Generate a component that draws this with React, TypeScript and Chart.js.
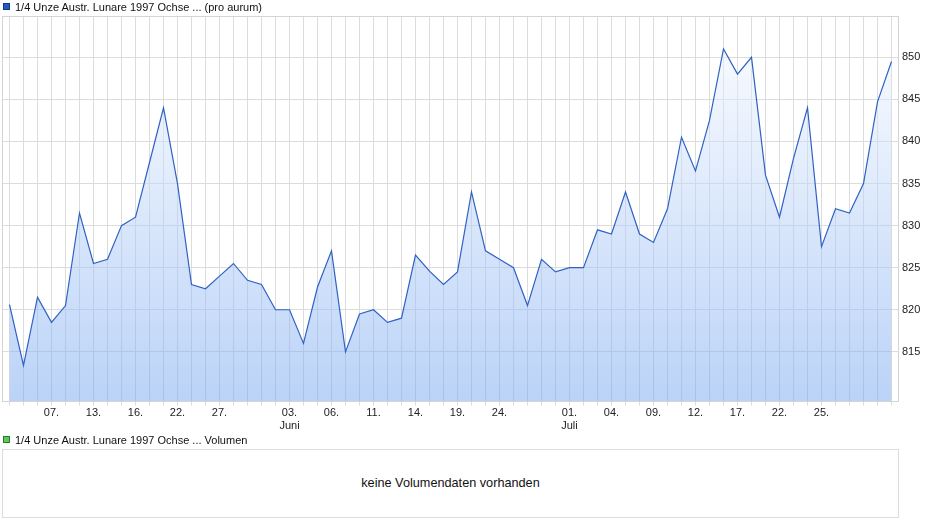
import React, { useEffect, useRef } from "react";
import { Chart, registerables } from "chart.js";

Chart.register(...registerables);

const categories: string[] = [
  "02.05.", "03.05.", "06.05.", "07.05.", "08.05.", "10.05.", "13.05.", "14.05.", "15.05.", "16.05.",
  "17.05.", "21.05.", "22.05.", "23.05.", "24.05.", "27.05.", "28.05.", "29.05.", "30.05.", "31.05.",
  "03.06.", "04.06.", "05.06.", "06.06.", "07.06.", "10.06.", "11.06.", "12.06.", "13.06.", "14.06.",
  "17.06.", "18.06.", "19.06.", "20.06.", "21.06.", "24.06.", "25.06.", "26.06.", "27.06.", "28.06.",
  "01.07.", "02.07.", "03.07.", "04.07.", "05.07.", "08.07.", "09.07.", "10.07.", "11.07.", "12.07.",
  "15.07.", "16.07.", "17.07.", "18.07.", "19.07.", "22.07.", "23.07.", "24.07.", "25.07.", "26.07.",
  "29.07.", "30.07.", "31.07.", "01.08.",
];

const prices: number[] = [
  820.6, 813.4, 821.5, 818.5, 820.5, 831.5, 825.5, 826, 830, 831,
  837.5, 844, 835, 823, 822.5, 824, 825.5, 823.5, 823, 820,
  820, 816, 822.7, 827, 815, 819.5, 820, 818.5, 819, 826.5,
  824.6, 823, 824.5, 834, 827, 826, 825, 820.5, 826, 824.5,
  825, 825, 829.5, 829, 834, 829, 828, 832, 840.5, 836.5,
  842.5, 851, 848, 850, 836, 831, 838, 844, 827.5, 832,
  831.5, 835, 844.7, 849.5,
];

const labeledDates: string[] = [
  "07.05.", "13.05.", "16.05.", "22.05.", "27.05.", "03.06.", "06.06.", "11.06.", "14.06.",
  "19.06.", "24.06.", "01.07.", "04.07.", "09.07.", "12.07.", "17.07.", "22.07.", "25.07.",
];

const monthNames: Record<string, string> = { "06": "Juni", "07": "Juli" };
const monthStartDates: string[] = ["03.06.", "01.07."];

const yTicks: number[] = [815, 820, 825, 830, 835, 840, 845, 850];
const yMin = 809.1;
const yMax = 854.85;

const titleText = "1/4 Unze Austr. Lunare 1997 Ochse ... (pro aurum)";
const volumeTitle = "1/4 Unze Austr. Lunare 1997 Ochse ... Volumen";
const noVolumeText = "keine Volumendaten vorhanden";

const FONT = "'Liberation Sans', Arial, Helvetica, sans-serif";
const GRID = "#dcdcdc";

const framePlugin = {
  id: "frame",
  afterDatasetsDraw(chart: any) {
    const { ctx, chartArea } = chart;
    ctx.save();
    ctx.strokeStyle = "#d4d4d4";
    ctx.lineWidth = 1;
    ctx.strokeRect(chartArea.left, chartArea.top, chartArea.right - chartArea.left, chartArea.bottom - chartArea.top);
    ctx.restore();
  },
};

function PriceChart() {
  const ref = useRef<HTMLCanvasElement | null>(null);
  useEffect(() => {
    if (!ref.current) return;
    const chart = new Chart(ref.current, {
      type: "line",
      data: {
        labels: categories,
        datasets: [
          {
            data: prices,
            borderColor: "#2f62c4",
            borderWidth: 1.2,
            pointRadius: 0,
            tension: 0,
            fill: "start",
            backgroundColor: (c: any) => {
              const area = c.chart.chartArea;
              if (!area) return "rgba(120,168,240,0.5)";
              const g = c.chart.ctx.createLinearGradient(0, area.top, 0, area.bottom);
              g.addColorStop(0, "rgba(250,252,255,0.5)");
              g.addColorStop(1, "rgba(119,167,241,0.5)");
              return g;
            },
          },
        ],
      },
      options: {
        animation: false,
        responsive: false,
        devicePixelRatio: 1,
        layout: { padding: { left: 2.5, top: 16.5, right: 0, bottom: 0 } },
        plugins: { legend: { display: false }, tooltip: { enabled: false } },
        scales: {
          x: {
            type: "category",
            offset: true,
            grid: { color: GRID, offset: false, drawTicks: true, tickLength: 4, tickColor: GRID },
            border: { display: false },
            afterFit: (s: any) => {
              s.height = 33.5;
            },
            ticks: {
              autoSkip: false,
              maxRotation: 0,
              minRotation: 0,
              padding: 1,
              color: "#222",
              font: { family: FONT, size: 11 },
              callback: (_v: any, i: number) => {
                const d = categories[i];
                if (!labeledDates.includes(d)) return "";
                const day = d.slice(0, 3);
                if (monthStartDates.includes(d)) return [day, monthNames[d.slice(3, 5)]];
                return day;
              },
            },
          },
          y: {
            position: "right",
            min: yMin,
            max: yMax,
            afterBuildTicks: (s: any) => {
              s.ticks = yTicks.map((v) => ({ value: v }));
            },
            afterFit: (s: any) => {
              s.width = 41.5;
            },
            grid: { color: GRID, drawTicks: false },
            border: { display: false },
            ticks: {
              padding: 3.5,
              color: "#222",
              font: { family: FONT, size: 11 },
            },
          },
        },
      },
      plugins: [framePlugin],
    });
    return () => chart.destroy();
  }, []);
  return (
    <canvas
      ref={ref}
      width={940}
      height={435}
      style={{ position: "absolute", left: 0, top: 0, width: 940, height: 435 }}
    />
  );
}

export default function App() {
  const text: React.CSSProperties = {
    position: "absolute",
    fontFamily: FONT,
    fontSize: 11,
    lineHeight: "14px",
    color: "#111",
    whiteSpace: "nowrap",
  };
  return (
    <div style={{ position: "absolute", left: 0, top: 0, width: 940, height: 526, background: "#fff" }}>
      <PriceChart />
      <div
        style={{
          position: "absolute", left: 3, top: 3, width: 5, height: 5,
          background: "#1f5bc6", border: "1px solid #123a80",
        }}
      />
      <div style={{ ...text, left: 15, top: 0 }}>{titleText}</div>
      <div
        style={{
          position: "absolute", left: 3, top: 436, width: 5, height: 5,
          background: "#5cc85c", border: "1px solid #2c7a2c",
        }}
      />
      <div style={{ ...text, left: 15, top: 433 }}>{volumeTitle}</div>
      <div
        style={{
          position: "absolute", left: 2, top: 449, width: 895, height: 67,
          border: "1px solid #dcdcdc",
        }}
      />
      <div style={{ ...text, fontSize: 12.7, left: 2, width: 897, top: 476, textAlign: "center" }}>{noVolumeText}</div>
    </div>
  );
}
